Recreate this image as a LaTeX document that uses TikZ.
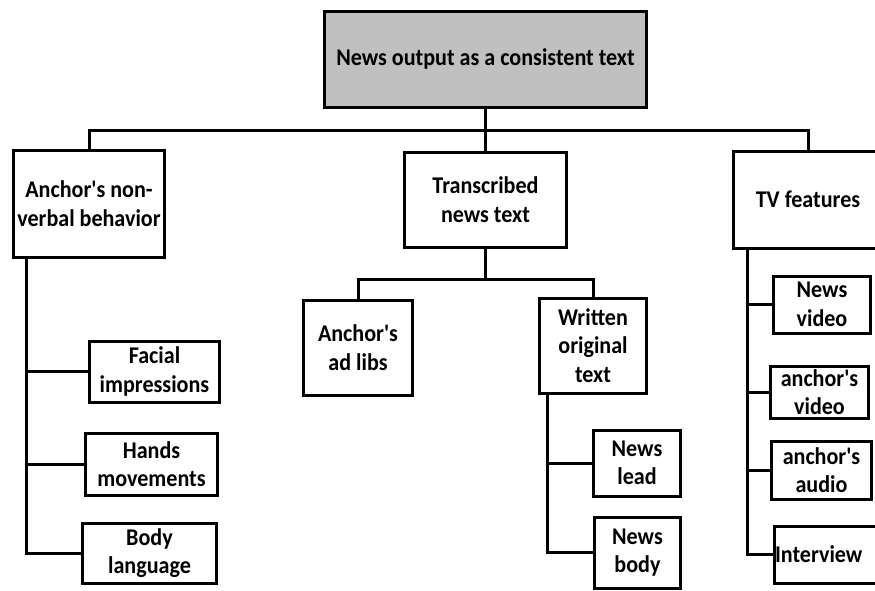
\documentclass[tikz,border=0pt]{standalone}
\usepackage{fontspec}
\newfontfamily\diagfont[FakeStretch=0.92]{Carlito}
\usetikzlibrary{positioning}
\definecolor{headgray}{RGB}{192,192,192}
\tikzstyle{topicbox}=[rectangle, draw=black, line width=3pt, fill=white,
        align=center, anchor=north, inner sep=0pt, text=black,
        font=\diagfont\bfseries\fontsize{24}{28.5}\selectfont]
\tikzstyle{headbox}=[topicbox, fill=headgray]
\tikzstyle{line}=[-, line width=3pt]

\begin{document}
\begin{tikzpicture}[x=1pt, y=-1pt]
    \fill[white] (0,0) rectangle (875,590);
    \clip (0,0) rectangle (875,590);

    \node (Output) [headbox, minimum width=322pt, minimum height=96pt] at (485.5,9.5)
        {News output as a consistent text};

    \node (Anchor) [topicbox, minimum width=151pt, minimum height=107pt] at (89,148.5)
        {Anchor's non-\\verbal behavior};
    \node (Transcribed) [topicbox, minimum width=162pt, minimum height=95pt] at (485.5,150.5)
        {Transcribed\\news text};
    \node (TV) [topicbox, minimum width=149pt, minimum height=97pt] at (808,149.5)
        {TV features};

    % transcribed text
    \node (AdLibs) [topicbox, minimum width=109pt, minimum height=95pt] at (358,298.5)
        {Anchor's\\ad libs};
    \node (Written) [topicbox, minimum width=107pt, minimum height=95pt] at (593,296.5)
        {Written\\original\\text};

    % non-verbal behavior
    \node (Facial) [topicbox, minimum width=130pt, minimum height=61pt] at (154.5,339.5)
        {Facial\\impressions};
    \node (Hands) [topicbox, minimum width=132pt, minimum height=62pt] at (151.5,431.5)
        {Hands\\movements};
    \node (Body) [topicbox, minimum width=134pt, minimum height=60pt] at (149.5,521.5)
        {Body\\language};

    % written text
    \node (Lead) [topicbox, minimum width=87pt, minimum height=66pt] at (637,428.5)
        {News\\lead};
    \node (NewsBody) [topicbox, minimum width=86pt, minimum height=71pt] at (637.5,515.5)
        {News\\body};

    % tv features
    \node (NewsVideo) [topicbox, minimum width=97pt, minimum height=57pt] at (822,274.5)
        {News\\video};
    \node (AnchorVideo) [topicbox, minimum width=98pt, minimum height=52pt] at (819.5,364.5)
        {anchor's\\video};
    \node (AnchorAudio) [topicbox, minimum width=100pt, minimum height=58pt] at (821.5,439.5)
        {anchor's\\audio};
    \node (Interview) [topicbox, anchor=north west, align=left, text width=108pt,
        inner xsep=1pt, minimum height=57pt] at (772.5,524.5)
        {Interview};

    \draw[line] (Output.south) -- ++(0,22) -| (Anchor.north);
    \draw[line] (Output.south) -- ++(0,22) -| (TV.north);
    \draw[line] (Output.south) -- (Transcribed.north);

    \draw[line] (Transcribed.south) -- ++(0,31) -| (AdLibs.north);
    \draw[line] (Transcribed.south) -- ++(0,31) -| (Written.north);

    \foreach \leaf in {Facial,Hands,Body}
        \draw[line] ([xshift=14.5pt]Anchor.south west) |- (\leaf.west);
    \foreach \leaf in {Lead,NewsBody}
        \draw[line] ([xshift=9.5pt]Written.south west) |- (\leaf.west);
    \foreach \leaf in {NewsVideo,AnchorVideo,AnchorAudio,Interview}
        \draw[line] ([xshift=15pt]TV.south west) |- (\leaf.west);
\end{tikzpicture}
\end{document}
